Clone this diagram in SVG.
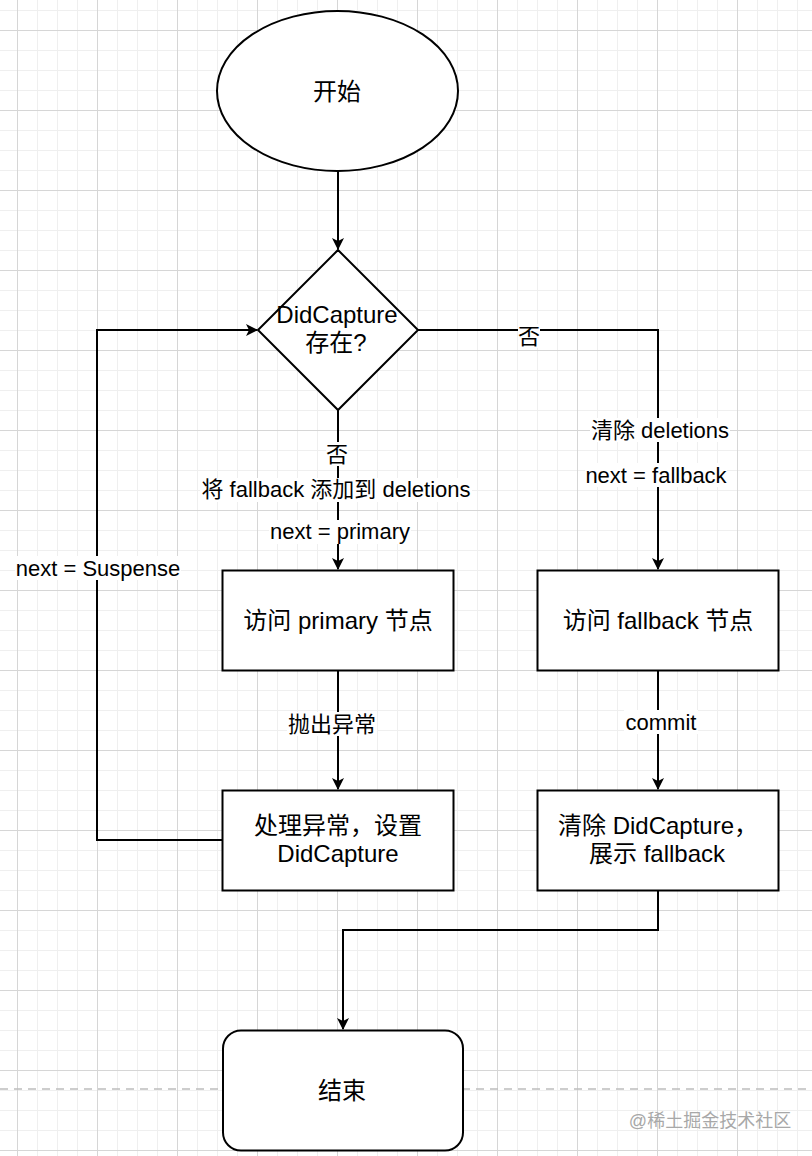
<svg xmlns="http://www.w3.org/2000/svg" width="812" height="1156" viewBox="0 0 812 1156">
<style>
text{font-family:"Liberation Sans","Noto Sans CJK SC",sans-serif;fill:#000;text-anchor:middle}
.n{font-size:24px}
.l{font-size:22px}
.shape{fill:#fff;stroke:#000;stroke-width:2}
.edge{fill:none;stroke:#000;stroke-width:2}
.bg{fill:#fff}
</style>
<defs>
<pattern id="grid" patternUnits="userSpaceOnUse" x="17" y="30" width="80" height="80">
<rect x="0" y="0" width="80" height="80" fill="#fff"/>
<g fill="#efefef">
<rect x="20" y="0" width="1" height="80"/><rect x="40" y="0" width="1" height="80"/><rect x="60" y="0" width="1" height="80"/>
<rect x="0" y="20" width="80" height="1"/><rect x="0" y="40" width="80" height="1"/><rect x="0" y="60" width="80" height="1"/>
</g>
<g fill="#d6d6d6">
<rect x="0" y="0" width="1" height="80"/><rect x="0" y="0" width="80" height="1"/>
</g>
</pattern>
<marker id="arr" viewBox="0 0 12 12" refX="11" refY="6" markerWidth="12" markerHeight="12" markerUnits="userSpaceOnUse" orient="auto">
<path d="M0,0 L12,6 L0,12 L3,6 Z" fill="#000"/>
</marker>
</defs>
<rect x="0" y="0" width="812" height="1156" fill="url(#grid)"/>
<line x1="0" y1="1089" x2="812" y2="1089" stroke="#bdbdbd" stroke-width="1.5" stroke-dasharray="8,6"/>
<text x="710" y="1127" style="font-size:18px;fill:#a8a8a8">@稀土掘金技术社区</text>

<g id="connectors">
<path class="edge" d="M338,171 L338,249" marker-end="url(#arr)"/>
<path class="edge" d="M338,410 L338,569" marker-end="url(#arr)"/>
<path class="edge" d="M418,330 L658,330 L658,569" marker-end="url(#arr)"/>
<path class="edge" d="M338,670 L338,789" marker-end="url(#arr)"/>
<path class="edge" d="M658,670 L658,789" marker-end="url(#arr)"/>
<path class="edge" d="M222,840 L97,840 L97,330 L257,330" marker-end="url(#arr)"/>
<path class="edge" d="M658,890 L658,930 L343,930 L343,1029" marker-end="url(#arr)"/>
<g id="labels">
<rect class="bg" x="518" y="324" width="22" height="24"/>
<text class="l" x="529" y="344">否</text>
<rect class="bg" x="326" y="442" width="22" height="24"/>
<text class="l" x="337" y="462">否</text>
<rect class="bg" x="200" y="478" width="272" height="24"/>
<text class="l" x="336" y="497">将 fallback 添加到 deletions</text>
<rect class="bg" x="269" y="520" width="142" height="24"/>
<text class="l" x="340" y="539">next = primary</text>
<rect class="bg" x="590" y="418" width="140" height="24"/>
<text class="l" x="660" y="438">清除 deletions</text>
<rect class="bg" x="585" y="463" width="142" height="24"/>
<text class="l" x="656" y="483">next = fallback</text>
<rect class="bg" x="15" y="556" width="166" height="24"/>
<text class="l" x="98" y="576">next = Suspense</text>
<rect class="bg" x="287" y="712" width="90" height="24"/>
<text class="l" x="332" y="732">抛出异常</text>
<rect class="bg" x="624" y="710" width="74" height="24"/>
<text class="l" x="661" y="730">commit</text>
</g>
</g>

<g id="start">
<ellipse class="shape" cx="337.5" cy="91" rx="120.5" ry="80"/>
<text class="n" x="337" y="99.5">开始</text>
</g>
<g id="decision">
<path class="shape" d="M338,250 L418,330 L338,410 L258,330 Z"/>
<text class="n" x="337" y="323">DidCapture</text>
<text class="n" x="336" y="351">存在?</text>
</g>
<g id="visit-primary">
<rect class="shape" x="222.5" y="570.5" width="231" height="100"/>
<text class="n" x="338" y="628.5">访问 primary 节点</text>
</g>
<g id="visit-fallback">
<rect class="shape" x="537.5" y="570.5" width="241" height="100"/>
<text class="n" x="658" y="628.5">访问 fallback 节点</text>
</g>
<g id="handle-error">
<rect class="shape" x="222.5" y="790.5" width="231" height="100"/>
<text class="n" x="338" y="834">处理异常，设置</text>
<text class="n" x="338" y="862">DidCapture</text>
</g>
<g id="clear-capture">
<rect class="shape" x="537.5" y="790.5" width="241" height="100"/>
<text class="n" x="658" y="834">清除 DidCapture，</text>
<text class="n" x="657" y="862">展示 fallback</text>
</g>
<g id="end">
<rect class="shape" x="223" y="1030.5" width="240" height="120" rx="18" ry="18"/>
<text class="n" x="342" y="1099">结束</text>
</g>
</svg>
